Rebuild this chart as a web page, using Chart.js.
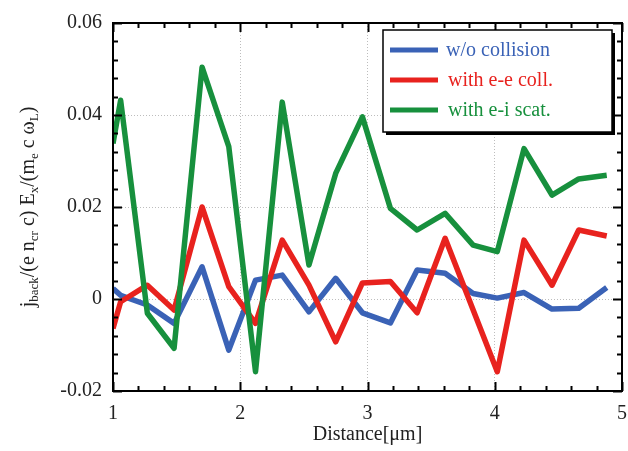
<!DOCTYPE html>
<html>
<head>
<meta charset="utf-8">
<script src="https://cdn.jsdelivr.net/npm/chart.js@4.4.0/dist/chart.umd.min.js"></script>
<style>
  body { margin: 0; background: #fff; }
</style>
</head>
<body>
<canvas id="myChart" width="628" height="451"></canvas>
<script>
// values
var distance = [1.0, 1.06, 1.27, 1.48, 1.70, 1.91, 2.12, 2.33, 2.54, 2.75, 2.96, 3.18, 3.39, 3.61, 3.83, 4.02, 4.23, 4.45, 4.66, 4.88];
var woCollision = [0.0023, 0.0008, -0.0013, -0.0053, 0.0070, -0.0111, 0.0041, 0.0052, -0.0028, 0.0045, -0.0030, -0.0052, 0.0063, 0.0056, 0.0012, 0.0002, 0.0014, -0.0022, -0.0020, 0.0025];
var eeColl = [-0.0064, -0.0006, 0.0030, -0.0024, 0.0200, 0.0027, -0.0053, 0.0128, 0.0030, -0.0093, 0.0035, 0.0038, -0.0030, 0.0132, null, -0.0158, 0.0128, 0.0030, 0.0150, 0.0137];
var eiScat = [0.0338, 0.0432, -0.0031, -0.0107, 0.0504, 0.0331, -0.0158, 0.0428, 0.0074, 0.0273, 0.0396, 0.0197, 0.0150, 0.0186, 0.0117, 0.0103, 0.0327, 0.0226, 0.0261, 0.0269];
var seriesLabels = ['w/o collision', 'with e-e coll.', 'with e-i scat.'];
var xTicks = [1, 2, 3, 4, 5];
var yTicks = [-0.02, 0, 0.02, 0.04, 0.06];

var BlueColor = '#3a62b6';
var RedColor = '#e8221e';
var GreenColor = '#17903d';
var SERIF = '"Liberation Serif", "DejaVu Serif", serif';

function toPoints(ys) {
    return distance.map(function (x, i) { return { x: x, y: ys[i] }; });
}

// frame, inward ticks, rotated y title and the boxed legend
var decor = {
    id: 'decor',
    afterDatasetsDraw: function (chart) {
        var ctx = chart.ctx;
        var a = chart.chartArea;
        var xs = chart.scales.x, ys = chart.scales.y;
        ctx.save();
        ctx.strokeStyle = '#000';
        ctx.lineWidth = 2;
        ctx.beginPath();
        var i, v, p, len;
        for (i = 0; i <= 20; i++) {
            v = 1 + i * 0.2;
            p = Math.round(xs.getPixelForValue(v)) + 0.5;
            len = (i % 5 === 0) ? 9 : 5;
            ctx.moveTo(p, a.bottom); ctx.lineTo(p, a.bottom - len);
            ctx.moveTo(p, a.top); ctx.lineTo(p, a.top + len);
        }
        for (i = 0; i <= 20; i++) {
            v = -0.02 + i * 0.004;
            p = Math.round(ys.getPixelForValue(v)) + 0.5;
            len = (i % 5 === 0) ? 9 : 5;
            ctx.moveTo(a.left, p); ctx.lineTo(a.left + len, p);
            ctx.moveTo(a.right, p); ctx.lineTo(a.right - len, p);
        }
        ctx.stroke();
        ctx.lineWidth = 2;
        ctx.strokeRect(a.left, a.top, a.right - a.left, a.bottom - a.top);

        // y axis title with subscripts
        var parts = [['j', 0], ['back', 1], ['/(e n', 0], ['cr', 1], [' c) E', 0], ['x', 1], ['/(m', 0], ['e', 1], [' c \u03c9', 0], ['L', 1], [')', 0]];
        var big = '20px ' + SERIF, small = '13px ' + SERIF;
        var total = 0;
        parts.forEach(function (pt) {
            ctx.font = pt[1] ? small : big;
            total += ctx.measureText(pt[0]).width;
        });
        ctx.translate(27, (a.top + a.bottom) / 2);
        ctx.rotate(-Math.PI / 2);
        ctx.fillStyle = '#222';
        ctx.textBaseline = 'alphabetic';
        var cx = -total / 2;
        parts.forEach(function (pt) {
            ctx.font = pt[1] ? small : big;
            ctx.fillText(pt[0], cx, pt[1] ? 11 : 7);
            cx += ctx.measureText(pt[0]).width;
        });
        ctx.restore();

        // legend box
        ctx.save();
        var bx = 383, by = 30, bw = 229, bh = 102;
        ctx.fillStyle = '#000';
        ctx.fillRect(bx + 3, by + 3, bw, bh);
        ctx.fillStyle = '#fff';
        ctx.fillRect(bx, by, bw, bh);
        ctx.strokeStyle = '#000';
        ctx.lineWidth = 1.5;
        ctx.strokeRect(bx, by, bw, bh);
        ctx.font = '20px ' + SERIF;
        ctx.textBaseline = 'middle';
        [0, 1, 2].forEach(function (k) {
            var ds = chart.data.datasets[k];
            var yy = by + 20 + k * 30;
            ctx.strokeStyle = ds.borderColor;
            ctx.lineWidth = 5;
            ctx.beginPath();
            ctx.moveTo(bx + 7, yy); ctx.lineTo(bx + 55, yy);
            ctx.stroke();
            ctx.fillStyle = ds.borderColor;
            ctx.fillText(ds.label, bx + 63 + (k > 0 ? 2 : 0), yy + 1);
        });
        ctx.restore();
    }
};

var ctx = document.getElementById('myChart').getContext('2d');
var myChart = new Chart(ctx, {
    type: 'line',
    data: {
        datasets: [{
            label: seriesLabels[0],
            data: toPoints(woCollision),
            borderColor: BlueColor,
            order: 3,
        }, {
            label: seriesLabels[1],
            data: toPoints(eeColl),
            borderColor: RedColor,
            spanGaps: true,
            order: 2,
        }, {
            label: seriesLabels[2],
            data: toPoints(eiScat),
            borderColor: GreenColor,
            order: 1,
        }],
    },
    options: {
        responsive: false,
        animation: false,
        devicePixelRatio: 1,
        layout: { padding: { top: 23, right: 6, left: 0, bottom: 0 } },
        elements: {
            line: { borderWidth: 5.5, tension: 0, borderJoinStyle: 'round' },
            point: { radius: 0 },
        },
        plugins: {
            legend: { display: false },
            tooltip: { enabled: false },
        },
        scales: {
            x: {
                type: 'linear',
                min: 1,
                max: 5,
                afterBuildTicks: function (s) { s.ticks = xTicks.map(function (v) { return { value: v }; }); },
                afterFit: function (s) { s.height = 60; s.paddingLeft = 0; s.paddingRight = 0; },
                ticks: {
                    padding: 11,
                    color: '#222',
                    font: { family: SERIF, size: 20 },
                    maxRotation: 0,
                },
                grid: {
                    drawTicks: false,
                    color: function (c) { return (c.tick && (c.tick.value === 1 || c.tick.value === 5)) ? 'rgba(0,0,0,0)' : '#bdbdbd'; },
                },
                border: { display: false, dash: [1, 2] },
                title: {
                    display: true,
                    text: 'Distance[\u03bcm]',
                    color: '#222',
                    font: { family: SERIF, size: 20 },
                    padding: { top: 0, bottom: 4 },
                },
            },
            y: {
                type: 'linear',
                min: -0.02,
                max: 0.06,
                afterBuildTicks: function (s) { s.ticks = yTicks.map(function (v) { return { value: v }; }); },
                afterFit: function (s) { s.width = 113; s.paddingTop = 0; s.paddingBottom = 0; },
                ticks: {
                    padding: 11,
                    color: '#222',
                    font: { family: SERIF, size: 20 },
                    callback: function (v) { return Math.abs(v) < 1e-9 ? '0' : (Math.round(v * 100) / 100).toFixed(2); },
                },
                grid: {
                    drawTicks: false,
                    color: function (c) { return (c.tick && (Math.abs(c.tick.value + 0.02) < 1e-9 || Math.abs(c.tick.value - 0.06) < 1e-9)) ? 'rgba(0,0,0,0)' : '#bdbdbd'; },
                },
                border: { display: false, dash: [1, 2] },
            },
        },
    },
    plugins: [decor],
});
</script>
</body>
</html>
